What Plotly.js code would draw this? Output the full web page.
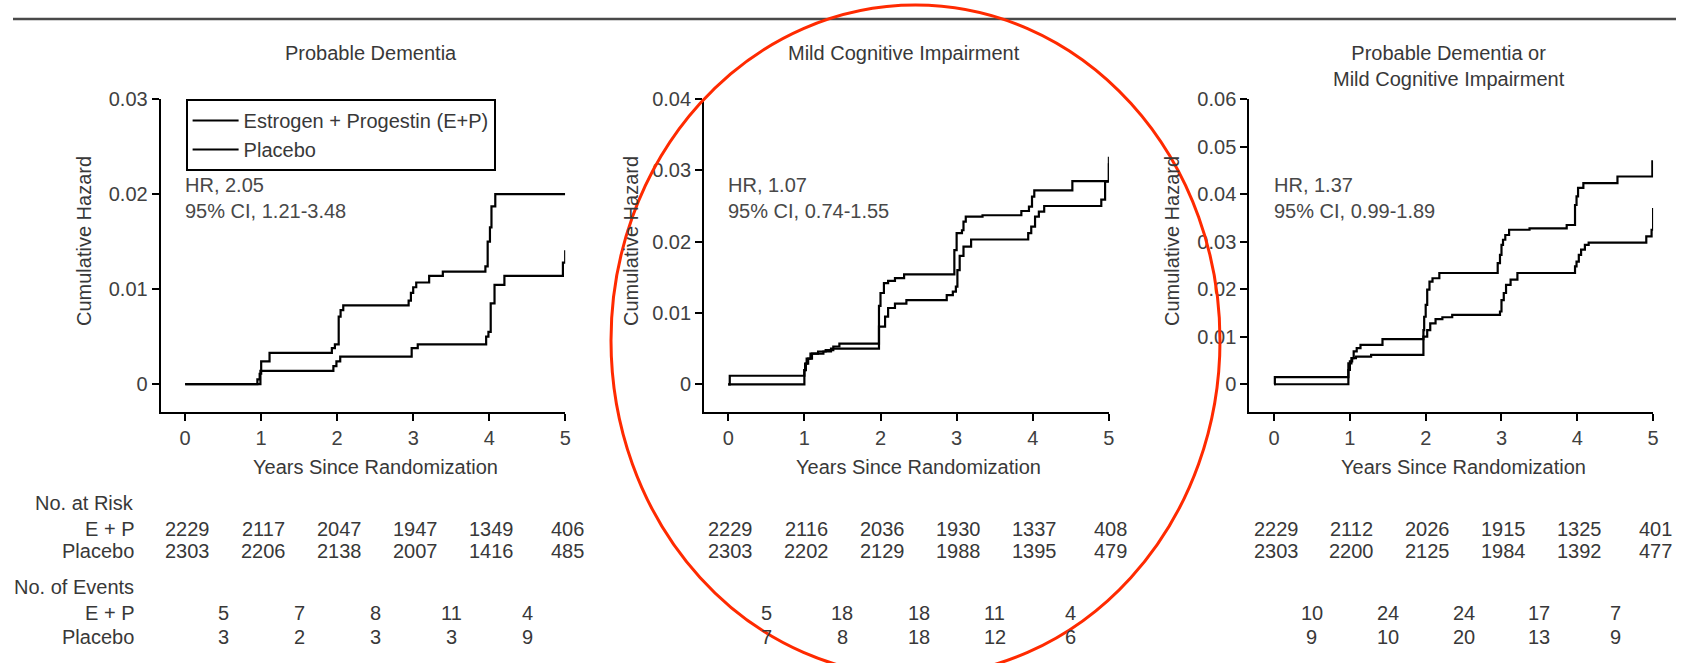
<!DOCTYPE html>
<html>
<head>
<meta charset="utf-8">
<script src="https://cdn.plot.ly/plotly-3.0.1.min.js"></script>
<style>html,body{margin:0;padding:0;background:#fff;}#chart{width:1683px;height:663px;}</style>
</head>
<body>
<div id="chart"></div>
<script>
// ---------------- data ----------------
const seriesNames = ["Estrogen + Progestin (E+P)", "Placebo"];
const panelTitles = ["Probable Dementia", "Mild Cognitive Impairment", "Probable Dementia or<br>Mild Cognitive Impairment"];
const hrTexts = ["HR, 2.05<br>95% CI, 1.21-3.48", "HR, 1.07<br>95% CI, 0.74-1.55", "HR, 1.37<br>95% CI, 0.99-1.89"];
const years = [0, 1, 2, 3, 4, 5];
const yearMid = [0.5, 1.5, 2.5, 3.5, 4.5];
const yTicks1 = [0, 0.01, 0.02, 0.03];
const yTicks2 = [0, 0.01, 0.02, 0.03, 0.04];
const yTicks3 = [0, 0.01, 0.02, 0.03, 0.04, 0.05, 0.06];

// Probable dementia
const pd_ep_t = [0, 0.95, 0.98, 1.0, 1.11, 1.93, 1.97, 2.02, 2.045, 2.08, 2.94, 2.97, 3.0, 3.04, 3.21, 3.39, 3.95, 3.98, 4.01, 4.03, 4.08, 5.0];
const pd_ep_h = [0, 0.0005, 0.0011, 0.0024, 0.0033, 0.0038, 0.0042, 0.0071, 0.0078, 0.0083, 0.0088, 0.0096, 0.0102, 0.0107, 0.0114, 0.01185, 0.0124, 0.0150, 0.0165, 0.0187, 0.0200, 0.0200];
const pd_pl_t = [0, 0.99, 1.95, 1.99, 2.04, 2.98, 3.06, 3.96, 3.99, 4.02, 4.07, 4.2, 4.97, 5.0];
const pd_pl_h = [0, 0.0014, 0.0019, 0.0024, 0.0029, 0.0038, 0.0042, 0.0050, 0.0055, 0.0085, 0.01045, 0.0114, 0.0128, 0.0141];

// Mild cognitive impairment
const mci_ep_t = [0, 0.02, 1.0, 1.01, 1.03, 1.08, 1.18, 1.28, 1.38, 1.46, 1.98, 2.0, 2.045, 2.1, 2.19, 2.31, 2.97, 3.0, 3.07, 3.09, 3.12, 3.34, 3.85, 3.95, 3.99, 4.02, 4.52, 5.0];
const mci_ep_h = [0, 0.0012, 0.0020, 0.0029, 0.0036, 0.0043, 0.0046, 0.0048, 0.0053, 0.0057, 0.0110, 0.0128, 0.0142, 0.0145, 0.0149, 0.0154, 0.0188, 0.0212, 0.0216, 0.0228, 0.0235, 0.0237, 0.0243, 0.0249, 0.0263, 0.0272, 0.0285, 0.0319];
const mci_pl_t = [0, 1.0, 1.02, 1.05, 1.1, 1.25, 1.35, 1.98, 2.06, 2.1, 2.19, 2.34, 2.87, 2.95, 2.99, 3.01, 3.04, 3.09, 3.19, 3.94, 3.98, 4.03, 4.08, 4.15, 4.9, 4.95, 5.0];
const mci_pl_h = [0, 0.0020, 0.0029, 0.0036, 0.0043, 0.0046, 0.0050, 0.0081, 0.0095, 0.0107, 0.0113, 0.0118, 0.0125, 0.0130, 0.0137, 0.0160, 0.0180, 0.0193, 0.0203, 0.0212, 0.0221, 0.0235, 0.0242, 0.0250, 0.0259, 0.0284, 0.0310];

// Probable dementia or MCI
const any_ep_t = [0, 0.01, 0.98, 1.0, 1.03, 1.05, 1.09, 1.14, 1.43, 1.97, 1.98, 2.0, 2.02, 2.05, 2.09, 2.18, 2.95, 2.98, 3.0, 3.02, 3.05, 3.1, 3.37, 3.86, 3.97, 3.99, 4.01, 4.08, 4.53, 4.99, 5.0];
const any_ep_h = [0, 0.0015, 0.0030, 0.0048, 0.0055, 0.0069, 0.0076, 0.0083, 0.0095, 0.0114, 0.0142, 0.0167, 0.0199, 0.0216, 0.0223, 0.0234, 0.0255, 0.0272, 0.0293, 0.0304, 0.0314, 0.0325, 0.0328, 0.0335, 0.0377, 0.0395, 0.0413, 0.0423, 0.0437, 0.0469, 0.0469];
const any_pl_t = [0, 0.98, 1.02, 1.08, 1.28, 1.97, 2.02, 2.06, 2.13, 2.22, 2.35, 2.98, 3.0, 3.03, 3.06, 3.12, 3.21, 3.97, 3.99, 4.02, 4.05, 4.1, 4.15, 4.91, 4.98, 5.0];
const any_pl_h = [0, 0.0044, 0.0055, 0.0058, 0.0062, 0.0100, 0.0114, 0.0128, 0.0137, 0.0141, 0.0146, 0.0153, 0.0177, 0.0192, 0.0209, 0.0220, 0.0234, 0.0248, 0.0258, 0.0272, 0.0283, 0.0293, 0.0298, 0.0311, 0.0325, 0.0371];

// Numbers at risk and events
const riskLabel = "No. at Risk";
const eventLabel = "No. of Events";
const rowLabels = ["E + P", "Placebo"];
const pd_risk_ep = [2229, 2117, 2047, 1947, 1349, 406];
const pd_risk_pl = [2303, 2206, 2138, 2007, 1416, 485];
const pd_ev_ep = [5, 7, 8, 11, 4];
const pd_ev_pl = [3, 2, 3, 3, 9];
const mci_risk_ep = [2229, 2116, 2036, 1930, 1337, 408];
const mci_risk_pl = [2303, 2202, 2129, 1988, 1395, 479];
const mci_ev_ep = [5, 18, 18, 11, 4];
const mci_ev_pl = [7, 8, 18, 12, 6];
const any_risk_ep = [2229, 2112, 2026, 1915, 1325, 401];
const any_risk_pl = [2303, 2200, 2125, 1984, 1392, 477];
const any_ev_ep = [10, 24, 24, 17, 7];
const any_ev_pl = [9, 10, 20, 13, 9];

const xTitle = "Years Since Randomization";
const yTitle = "Cumulative Hazard";

// ---------------- layout helpers ----------------
const W = 1683, H = 663;
const fx = px => px / W;
const fy = py => 1 - py / H;
const FONT = "Liberation Sans, Arial, Helvetica, sans-serif";
const TXT = "#383838";

const panels = [
  {x0: 160.7, x1: 565.2, t0: 185.2, xmin: -0.322, ymin: -0.00289, ymax: 0.03, ticks: yTicks1, titleX: 371, titleY: 53, yTitleX: 82, ep: [pd_ep_t, pd_ep_h], pl: [pd_pl_t, pd_pl_h], risk: [pd_risk_ep, pd_risk_pl], ev: [pd_ev_ep, pd_ev_pl]},
  {x0: 704.1, x1: 1108.9, t0: 728.2, xmin: -0.317, ymin: -0.00384, ymax: 0.04, ticks: yTicks2, titleX: 904, titleY: 53, yTitleX: 629, ep: [mci_ep_t, mci_ep_h], pl: [mci_pl_t, mci_pl_h], risk: [mci_risk_ep, mci_risk_pl], ev: [mci_ev_ep, mci_ev_pl]},
  {x0: 1249.3, x1: 1653.1, t0: 1274.1, xmin: -0.327, ymin: -0.00577, ymax: 0.06, ticks: yTicks3, titleX: 1449, titleY: 66.5, yTitleX: 1170, ep: [any_ep_t, any_ep_h], pl: [any_pl_t, any_pl_h], risk: [any_risk_ep, any_risk_pl], ev: [any_ev_ep, any_ev_pl]}
];
const plotTop = 99, plotBottom = 411.7;

const traces = [];
const layout = {
  width: W, height: H,
  margin: {l: 0, r: 0, t: 0, b: 0},
  paper_bgcolor: "#fff", plot_bgcolor: "rgba(0,0,0,0)",
  font: {family: FONT, size: 20, color: TXT},
  showlegend: true,
  legend: {
    x: fx(185.6), y: fy(99), xanchor: "left", yanchor: "top",
    bordercolor: "#000", borderwidth: 2, bgcolor: "#fff",
    font: {family: FONT, size: 20, color: TXT},
    tracegroupgap: 0, itemwidth: 46
  },
  annotations: [],
  shapes: []
};

panels.forEach((p, i) => {
  const n = i === 0 ? "" : String(i + 1);
  const xa = "x" + n, ya = "y" + n;
  [[p.ep, seriesNames[0]], [p.pl, seriesNames[1]]].forEach(([d, name]) => {
    traces.push({
      type: "scatter", mode: "lines", x: d[0], y: d[1], name: name,
      xaxis: xa, yaxis: ya, showlegend: i === 0,
      line: {color: "#000", width: 2.2, shape: "hv"},
      hoverinfo: "skip"
    });
  });
  layout["xaxis" + n] = {
    domain: [fx(p.x0), fx(p.x1)], range: [p.xmin, 5], anchor: ya,
    showgrid: false, zeroline: false, showline: true, linecolor: "#000", linewidth: 2,
    ticks: "outside", ticklen: 7, tickwidth: 2, tickcolor: "#000",
    tickvals: years, ticktext: years.map(String),
    tickfont: {family: FONT, size: 20, color: "#404040"}, fixedrange: true
  };
  layout["yaxis" + n] = {
    domain: [fy(plotBottom), fy(plotTop)], range: [p.ymin, p.ymax], anchor: xa,
    showgrid: false, zeroline: false, showline: true, linecolor: "#000", linewidth: 2,
    ticks: "outside", ticklen: 7, tickwidth: 2, tickcolor: "#000",
    tickvals: p.ticks, ticktext: p.ticks.map(v => v === 0 ? "0" : v.toFixed(2)),
    tickfont: {family: FONT, size: 20, color: "#404040"}, fixedrange: true
  };
  const A = layout.annotations;
  // panel title
  A.push({text: panelTitles[i], xref: "paper", yref: "paper", x: fx(p.titleX), y: fy(p.titleY),
    xanchor: "center", yanchor: "middle", showarrow: false, font: {size: 20, color: TXT}});
  // HR text
  A.push({text: hrTexts[i], xref: "paper", yref: "paper", x: fx(p.t0 - 2), y: fy(198),
    xanchor: "left", yanchor: "middle", align: "left", showarrow: false, font: {size: 20, color: "#484848"}});
  // axis titles
  A.push({text: xTitle, xref: xa, yref: "paper", x: 2.5, y: fy(467),
    xanchor: "center", yanchor: "middle", showarrow: false, font: {size: 20, color: TXT}});
  A.push({text: yTitle, xref: "paper", yref: "paper", x: fx(p.yTitleX + 2), y: fy(241), textangle: -90,
    xanchor: "center", yanchor: "middle", showarrow: false, font: {size: 20, color: TXT}});
  // numbers at risk
  const riskY = [529, 551], evY = [613, 637];
  p.risk.forEach((row, r) => row.forEach((v, k) => A.push({text: String(v), xref: xa, yref: "paper",
    x: years[k], y: fy(riskY[r]), xanchor: "center", yanchor: "middle", xshift: 2, showarrow: false, font: {size: 20, color: TXT}})));
  p.ev.forEach((row, r) => row.forEach((v, k) => A.push({text: String(v), xref: xa, yref: "paper",
    x: yearMid[k], y: fy(evY[r]), xanchor: "center", yanchor: "middle", showarrow: false, font: {size: 20, color: TXT}})));
});

// row labels of the tables
[[riskLabel, 503], [rowLabels[0], 529], [rowLabels[1], 551], [eventLabel, 587], [rowLabels[0], 613], [rowLabels[1], 637]].forEach(([t, y]) => {
  layout.annotations.push({text: t, xref: "paper", yref: "paper", x: fx(136), y: fy(y),
    xanchor: "right", yanchor: "middle", showarrow: false, font: {size: 20, color: TXT}});
});

// top rule
layout.shapes.push({type: "line", xref: "paper", yref: "paper", x0: fx(13), x1: fx(1676), y0: fy(19), y1: fy(19),
  line: {color: "#4a4a4a", width: 2.5}});
// red hand-drawn ellipse around middle panel
layout.shapes.push({type: "circle", xref: "paper", yref: "paper", x0: fx(611), x1: fx(1220), y0: fy(676), y1: fy(5),
  line: {color: "#ff2a00", width: 3}, layer: "above"});

Plotly.newPlot("chart", traces, layout, {staticPlot: true, displayModeBar: false});
</script>
</body>
</html>
